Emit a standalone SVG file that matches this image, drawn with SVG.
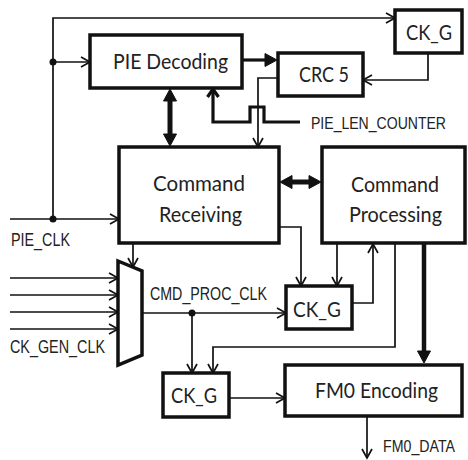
<svg xmlns="http://www.w3.org/2000/svg" width="468" height="460" viewBox="0 0 468 460">
<defs>
<style>
.box{fill:#fff;stroke:#111;stroke-width:3.5}
.lbl{font-family:Lato,"Open Sans",sans-serif;font-size:22px;fill:#222}
.sig{font-family:"Liberation Sans",Arial,sans-serif;font-size:18px;fill:#222}
.w{fill:none;stroke:#111;stroke-width:1.7}
.wt{fill:none;stroke:#111;stroke-width:3.2}
.bus{fill:none;stroke:#111;stroke-width:5}
.dot{fill:#111}
</style>
<marker id="open" markerUnits="userSpaceOnUse" viewBox="-11 -7 13 14" refX="0" refY="0" markerWidth="13" markerHeight="14" orient="auto" overflow="visible">
<path d="M-9,-5 L0,0 L-9,5" fill="none" stroke="#111" stroke-width="1.7"/>
</marker>
<marker id="openT" markerUnits="userSpaceOnUse" viewBox="-11 -7 13 14" refX="0" refY="0" markerWidth="13" markerHeight="14" orient="auto" overflow="visible">
<path d="M-8,-5.5 L0,0 L-8,5.5" fill="none" stroke="#111" stroke-width="3.2"/>
</marker>
<marker id="fill" markerUnits="userSpaceOnUse" viewBox="-8 -8 16 16" refX="0" refY="0" markerWidth="16" markerHeight="16" orient="auto-start-reverse" overflow="visible">
<path d="M-6,-6.5 L6,0 L-6,6.5 Z" fill="#111" stroke="#111" stroke-width="1" stroke-linejoin="round"/>
</marker>
</defs>
<rect width="468" height="460" fill="#fff"/>

<g id="connectors">
<path class="w" d="M53,219 V18 H395" marker-end="url(#open)"/>
<path class="w" d="M53,62 H90" marker-end="url(#open)"/>
<path class="w" d="M10,219 H119" marker-end="url(#open)"/>
<circle class="dot" cx="53" cy="62" r="3.5"/>
<circle class="dot" cx="53" cy="219" r="3.5"/>
<path class="w" d="M428,53 V80 H363" marker-end="url(#open)"/>
<path class="w" d="M277,78 H258 V147" marker-end="url(#open)"/>
<path class="wt" d="M300,122 H264 V107 H250 V122 H213 V89" marker-end="url(#openT)"/>
<path class="w" d="M133,243 V267" marker-end="url(#open)"/>
<path class="w" d="M10,278 H118" marker-end="url(#open)"/>
<path class="w" d="M10,295 H118" marker-end="url(#open)"/>
<path class="w" d="M10,312 H118" marker-end="url(#open)"/>
<path class="w" d="M10,329 H118" marker-end="url(#open)"/>
<path class="w" d="M142,313 H286" marker-end="url(#open)"/>
<circle class="dot" cx="192" cy="313" r="3.5"/>
<path class="w" d="M192,313 V373" marker-end="url(#open)"/>
<path class="w" d="M279,227 H301 V286" marker-end="url(#open)"/>
<path class="w" d="M337,243 V286" marker-end="url(#open)"/>
<path class="w" d="M352,303 H373 V244" marker-end="url(#open)"/>
<path class="w" d="M395,243 V347 H213 V373" marker-end="url(#open)"/>
<path class="w" d="M229,398 H285" marker-end="url(#open)"/>
<path class="w" d="M367,417 V458" marker-end="url(#open)"/>
<path class="wt" d="M242,60 H271" marker-end="url(#fill)"/>
<path class="bus" d="M170,95 V140" marker-start="url(#fill)" marker-end="url(#fill)"/>
<path class="bus" d="M286,182 H315" marker-start="url(#fill)" marker-end="url(#fill)"/>
<path class="wt" style="stroke-width:4.5" d="M424,243 V357" marker-end="url(#fill)"/>
</g>

<g id="pie_decoding">
<rect class="box" x="90" y="35" width="152" height="53"/>
<text class="lbl" x="113" y="69" textLength="115" lengthAdjust="spacingAndGlyphs">PIE Decoding</text>
</g>
<g id="crc5">
<rect class="box" x="278" y="53" width="85" height="43"/>
<text class="lbl" x="299" y="82" textLength="50" lengthAdjust="spacingAndGlyphs">CRC 5</text>
</g>
<g id="ckg_top">
<rect class="box" x="395" y="10" width="67" height="43"/>
<text class="lbl" x="406" y="40" textLength="46" lengthAdjust="spacingAndGlyphs">CK_G</text>
</g>
<g id="cmd_receiving">
<rect class="box" x="119" y="147" width="160" height="96"/>
<text class="lbl" x="153" y="191" textLength="92" lengthAdjust="spacingAndGlyphs">Command</text>
<text class="lbl" x="159" y="222" textLength="83" lengthAdjust="spacingAndGlyphs">Receiving</text>
</g>
<g id="cmd_processing">
<rect class="box" x="322" y="147" width="143" height="96"/>
<text class="lbl" x="351" y="192" textLength="88" lengthAdjust="spacingAndGlyphs">Command</text>
<text class="lbl" x="349" y="222" textLength="93" lengthAdjust="spacingAndGlyphs">Processing</text>
</g>
<g id="mux">
<polygon class="box" points="118,261 142,271 142,355 118,365"/>
</g>
<g id="ckg_mid">
<rect class="box" x="286" y="286" width="66" height="43"/>
<text class="lbl" x="293" y="317" textLength="48" lengthAdjust="spacingAndGlyphs">CK_G</text>
</g>
<g id="ckg_bottom">
<rect class="box" x="163" y="373" width="66" height="44"/>
<text class="lbl" x="171" y="403" textLength="46" lengthAdjust="spacingAndGlyphs">CK_G</text>
</g>
<g id="fm0_encoding">
<rect class="box" x="285" y="365" width="177" height="51"/>
<text class="lbl" x="315" y="398" textLength="123" lengthAdjust="spacingAndGlyphs">FM0 Encoding</text>
</g>

<g id="signal_labels">
<text class="sig" style="font-size:16px" x="311" y="129" textLength="135" lengthAdjust="spacingAndGlyphs">PIE_LEN_COUNTER</text>
<text class="sig" x="11" y="246" textLength="59" lengthAdjust="spacingAndGlyphs">PIE_CLK</text>
<text class="sig" x="150" y="300" textLength="117" lengthAdjust="spacingAndGlyphs">CMD_PROC_CLK</text>
<text class="sig" x="10" y="353" textLength="95" lengthAdjust="spacingAndGlyphs">CK_GEN_CLK</text>
<text class="sig" style="font-size:16.5px" x="383" y="452" textLength="72" lengthAdjust="spacingAndGlyphs">FM0_DATA</text>
</g>
</svg>
